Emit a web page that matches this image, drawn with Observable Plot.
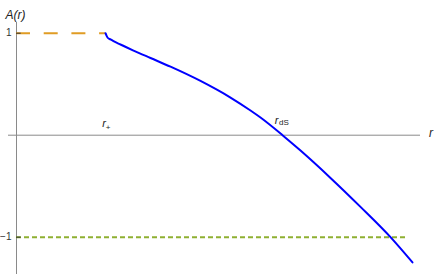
<!DOCTYPE html>
<html><head><meta charset="utf-8">
<script src="https://cdn.jsdelivr.net/npm/d3@7"></script>
<script src="https://cdn.jsdelivr.net/npm/@observablehq/plot@0.6"></script>
<style>body{margin:0;background:#fff}</style>
</head><body><div id="chart"></div>
<script>
// A(r) curve samples
const rValues = [0.89, 0.90, 0.91, 0.94, 0.97, 1.04, 1.17, 1.34, 1.54, 1.84, 2.14, 2.34, 2.44, 2.66, 2.84, 3.14, 3.44, 3.74, 3.96];
const aValues = [1, 0.977, 0.958, 0.939, 0.922, 0.889, 0.830, 0.757, 0.672, 0.532, 0.369, 0.242, 0.173, 0, -0.151, -0.419, -0.703, -1, -1.248];
// special radii
const rPlus = 0.89;
const rDS = 2.66;
const rLowerEnd = 3.92;
// horizontal reference levels
const upperLevel = 1;
const lowerLevel = -1;
// y tick values and labels
const yTicks = [1, -1];
const yTickLabels = ["1", "\u22121"];

const curve = rValues.map((v, i) => ({r: v, A: aValues[i]}));
const font = "'Liberation Sans', Arial, sans-serif";

const chart = Plot.plot({
  width: 436,
  height: 275,
  marginLeft: 8,
  marginRight: 16,
  marginTop: 22,
  marginBottom: 1,
  x: {domain: [-0.08, 4.04], axis: null},
  y: {domain: [-1.366, 1.105], axis: null},
  style: {fontFamily: font, background: "#fff", overflow: "visible"},
  marks: [
    Plot.ruleY([0], {stroke: "#8a8a8a", strokeWidth: 1}),
    Plot.ruleX([0], {stroke: "#8a8a8a", strokeWidth: 1}),
    Plot.ruleY([upperLevel], {x1: 0, x2: rPlus, stroke: "#e09c24", strokeWidth: 2, strokeDasharray: "14,13.7"}),
    Plot.ruleY([lowerLevel], {x1: 0, x2: rLowerEnd, stroke: "#8fb032", strokeWidth: 2, strokeDasharray: "5,3"}),
    Plot.ruleY(yTicks, {x1: 0, x2: 0.047, stroke: "#333", strokeWidth: 1}),
    Plot.line(curve, {x: "r", y: "A", stroke: "#0000ff", strokeWidth: 2, curve: "monotone-x"}),
    Plot.text(yTicks, {x: 0, y: d => d, text: (d, i) => yTickLabels[i], textAnchor: "end", dx: -5, fontSize: 10, fill: "#333"}),
    Plot.text(["A(r)"], {frameAnchor: "top-left", text: d => d, textAnchor: "start", dx: -3, dy: -12, fontSize: 12, fontStyle: "italic", fill: "#222"}),
    Plot.text(["r"], {x: 4.04, y: 0, text: d => d, textAnchor: "middle", dx: 10.5, dy: -2, fontSize: 12, fontStyle: "italic", fill: "#222"}),
    Plot.text(["r"], {x: rPlus, y: 0, text: d => d, textAnchor: "middle", dx: -1.5, dy: -11.5, fontSize: 11, fontStyle: "italic", fill: "#222"}),
    Plot.text(["+"], {x: rPlus, y: 0, text: d => d, textAnchor: "middle", dx: 2.5, dy: -7.7, fontSize: 8, fill: "#222"}),
    Plot.text(["r"], {x: rDS, y: 0, text: d => d, textAnchor: "middle", dx: -6, dy: -15, fontSize: 11, fontStyle: "italic", fill: "#222"}),
    Plot.text(["dS"], {x: rDS, y: 0, text: d => d, textAnchor: "start", dx: -3.5, dy: -12.7, fontSize: 8, fill: "#222"})
  ]
});
document.getElementById("chart").appendChild(chart);
</script>
</body></html>
